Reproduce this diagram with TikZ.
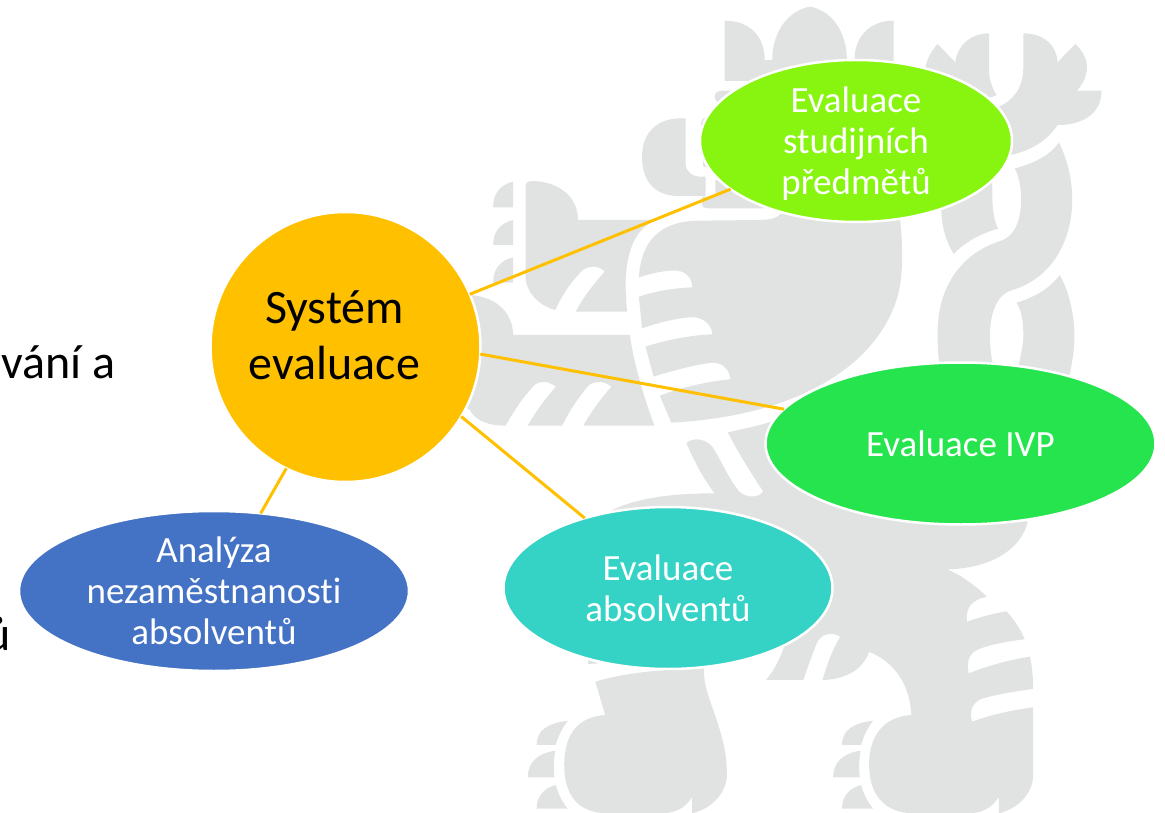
\documentclass[tikz,border=0pt]{standalone}
\usepackage{fontspec}
\setmainfont{Carlito}[Ligatures=NoCommon]
\usetikzlibrary{shapes.geometric}
\definecolor{lionc}{HTML}{E1E3E3}
\definecolor{linkc}{HTML}{FFC000}
\definecolor{limec}{HTML}{88F510}
\definecolor{greenc}{HTML}{25E44E}
\definecolor{tealc}{HTML}{35D3C5}
\definecolor{bluec}{HTML}{4472C4}
\tikzset{
  lion/.style={fill=lionc,draw=none},
  bubble/.style={ellipse,draw=white,line width=2.5pt,outer sep=0pt,inner sep=0pt,text=white,align=center,font=\fontsize{37}{41}\selectfont},
  hub/.style={circle,draw=white,line width=2.5pt,fill=linkc,outer sep=0pt,inner sep=0pt,minimum size=270pt},
  big/.style={text=black,inner sep=0pt,align=center,font=\fontsize{48}{56}\selectfont},
  link/.style={draw=linkc,line width=3pt}
}
\begin{document}
\begin{tikzpicture}[x=1pt,y=-1pt]
\useasboundingbox (0,0) rectangle (1165,813);
\fill[white] (0,0) rectangle (1165,813);
\begin{scope}
\clip (0,0) rectangle (1165,813);
% lion watermark, upper half
\begin{scope}[shift={(470,0)},x=0.44444pt,y=-0.33333pt]
% crown
\fill[lion] (573,62) .. controls (630,62) and (663,110) .. (663,180) -- (680,180) .. controls (680,90) and (720,30) .. (765,20) .. controls (810,30) and (848,90) .. (848,180) -- (865,180) .. controls (865,110) and (900,62) .. (953,62) -- (953,300) -- (640,300) -- (640,243) -- (573,243) -- cycle;
% head pieces
\fill[lion] (550,292) .. controls (550,280) and (556,272) .. (568,272) -- (700,272) -- (700,340) -- (565,330) -- cycle;
\fill[lion] (520,372) .. controls (520,360) and (524,354) .. (532,352) -- (600,352) -- (600,520) -- (525,500) -- cycle;
\fill[lion] (485,355) .. controls (420,350) and (387,400) .. (387,470) .. controls (387,550) and (420,588) .. (470,588) -- (530,588) -- (530,530) -- (520,530) .. controls (500,530) and (485,515) .. (485,490) -- cycle;
\fill[lion] (522,590) -- (522,612) .. controls (522,622) and (528,625) .. (538,625) -- (680,625) -- (680,540) -- (552,540) -- (552,590) -- cycle;
% claws of the upper paw
\fill[lion] (97,545) .. controls (65,555) and (52,585) .. (52,622) -- (97,622) -- cycle;
\fill[lion] (97,660) .. controls (65,670) and (52,700) .. (52,735) -- (97,735) -- cycle;
\fill[lion] (97,772) .. controls (65,782) and (52,812) .. (52,848) -- (97,848) -- cycle;
% upper paw
\fill[lion] (125,560) .. controls (125,548) and (130,543) .. (140,543) .. controls (205,545) and (243,595) .. (243,660) -- (420,660) .. controls (375,680) and (350,750) .. (350,860) -- (353,935) -- (238,935) .. controls (255,890) and (280,850) .. (303,815) .. controls (290,795) and (265,795) .. (250,815) .. controls (225,850) and (205,890) .. (192,930) .. controls (150,915) and (125,870) .. (125,830) -- cycle;
% lower paw
\fill[lion] (-40,885) -- (0,885) .. controls (60,890) and (97,940) .. (97,1005) -- (360,1005) .. controls (365,1070) and (390,1190) .. (415,1277) -- (255,1277) .. controls (270,1240) and (295,1195) .. (318,1160) .. controls (305,1145) and (285,1140) .. (268,1155) .. controls (245,1190) and (225,1230) .. (207,1277) -- (130,1277) .. controls (145,1240) and (170,1195) .. (193,1160) .. controls (180,1145) and (160,1140) .. (145,1155) .. controls (120,1190) and (100,1230) .. (80,1277) .. controls (40,1277) and (10,1260) .. (0,1230) -- (-40,1200) -- cycle;
% chest
\fill[lion] (380,832) .. controls (385,720) and (430,665) .. (510,662) -- (650,660) .. controls (680,660) and (695,650) .. (700,640) -- (968,660) .. controls (975,760) and (972,800) .. (970,830) .. controls (960,1000) and (830,1240) .. (453,1268) -- (427,1187) .. controls (470,1165) and (530,1145) .. (585,1138) .. controls (585,1110) and (570,1090) .. (548,1088) .. controls (520,1090) and (460,1110) .. (413,1130) -- (395,1040) .. controls (440,1020) and (500,1005) .. (545,1003) .. controls (545,980) and (530,955) .. (505,952) .. controls (480,950) and (430,965) .. (387,985) -- (380,890) .. controls (415,875) and (450,865) .. (500,862) .. controls (500,840) and (490,815) .. (465,812) .. controls (450,810) and (420,815) .. (380,832) -- cycle;
% tail
\fill[lion] (1025,200) .. controls (1030,170) and (1040,150) .. (1052,132) -- (1092,187) .. controls (1095,140) and (1125,100) .. (1168,100) -- (1168,210) .. controls (1168,240) and (1175,265) .. (1185,285) -- (1100,330) -- cycle;
\fill[lion] (1190,320) .. controls (1225,300) and (1245,260) .. (1245,200) -- (1245,100) .. controls (1290,100) and (1320,135) .. (1322,187) -- (1362,132) .. controls (1380,155) and (1390,180) .. (1388,210) .. controls (1385,235) and (1378,255) .. (1365,272) -- (1421,272) .. controls (1421,335) and (1385,375) .. (1322,375) .. controls (1300,420) and (1265,450) .. (1218,465) -- (1150,420) -- cycle;
\fill[lion] (1325,428) .. controls (1345,480) and (1355,540) .. (1355,600) .. controls (1355,720) and (1310,835) .. (1220,870) .. controls (1190,880) and (1170,930) .. (1170,1005) .. controls (1170,1040) and (1172,1065) .. (1180,1130) -- (1058,1130) .. controls (1052,1050) and (1052,1020) .. (1052,1000) .. controls (1052,860) and (1105,760) .. (1195,722) .. controls (1225,710) and (1240,660) .. (1240,600) .. controls (1240,560) and (1235,530) .. (1226,505) .. controls (1270,490) and (1305,465) .. (1325,428) -- cycle;
\fill[lion] (1175,540) .. controls (1175,610) and (1175,650) .. (1188,686) .. controls (1150,700) and (1115,725) .. (1088,762) .. controls (1070,720) and (1060,680) .. (1060,610) -- cycle;
\fill[lion] (1327,825) .. controls (1350,880) and (1360,950) .. (1360,1010) .. controls (1360,1050) and (1355,1085) .. (1347,1140) -- (1225,1140) .. controls (1242,1060) and (1245,1030) .. (1245,1005) .. controls (1245,960) and (1240,930) .. (1230,908) .. controls (1270,892) and (1305,865) .. (1327,825) -- cycle;
% lower half
\begin{scope}[shift={(0,1200)}]
% torso and hind leg
\fill[lion] (300,345) .. controls (360,295) and (450,280) .. (550,280) .. controls (525,235) and (505,185) .. (487,130) .. controls (495,115) and (525,110) .. (545,140) .. controls (565,180) and (580,230) .. (600,265) .. controls (610,290) and (645,300) .. (660,275) .. controls (630,215) and (600,150) .. (580,97) .. controls (620,85) and (660,75) .. (700,55) -- (900,290) -- (1255,365) .. controls (1240,450) and (1170,505) .. (1075,508) .. controls (1110,530) and (1140,560) .. (1163,590) .. controls (1130,600) and (1115,620) .. (1118,665) .. controls (1150,650) and (1180,640) .. (1207,634) .. controls (1225,660) and (1240,690) .. (1248,718) .. controls (1200,725) and (1160,738) .. (1140,750) .. controls (1120,765) and (1118,790) .. (1122,820) .. controls (1160,800) and (1210,780) .. (1260,770) .. controls (1265,800) and (1267,835) .. (1267,867) .. controls (1220,875) and (1180,885) .. (1150,897) .. controls (1130,910) and (1122,935) .. (1130,965) .. controls (1170,945) and (1220,930) .. (1267,922) -- (1267,1130) .. controls (1265,1180) and (1235,1225) .. (1190,1240) -- (1190,1190) .. controls (1175,1225) and (1150,1240) .. (1120,1240) -- (1000,1240) .. controls (930,1240) and (898,1180) .. (898,1095) .. controls (898,1000) and (935,950) .. (993,945) .. controls (990,860) and (960,790) .. (898,755) .. controls (885,805) and (850,838) .. (793,840) .. controls (803,795) and (815,750) .. (833,710) .. controls (815,695) and (790,700) .. (780,730) .. controls (770,765) and (760,800) .. (750,840) -- (666,840) .. controls (685,810) and (700,770) .. (708,735) -- (600,600) -- cycle;
% fore leg
\fill[lion] (282,845) .. controls (340,822) and (400,810) .. (527,805) -- (527,830) .. controls (530,900) and (580,1000) .. (578,1130) .. controls (575,1180) and (545,1225) .. (500,1240) -- (500,1190) .. controls (485,1225) and (460,1240) .. (430,1240) -- (310,1240) .. controls (240,1240) and (212,1180) .. (212,1095) .. controls (212,1000) and (245,950) .. (304,945) -- cycle;
\fill[lion] (266,780) -- (290,790) -- (266,792) -- cycle;
% toes
\foreach \dx in {0,687}{
\begin{scope}[xshift=\dx*0.44444pt]
\fill[lion] (220,962) .. controls (175,970) and (150,990) .. (150,1035) -- (193,1035) .. controls (198,1010) and (207,985) .. (220,962) -- cycle;
\fill[lion] (192,1052) .. controls (150,1060) and (130,1090) .. (130,1132) -- (190,1132) .. controls (188,1105) and (188,1080) .. (192,1052) -- cycle;
\fill[lion] (193,1155) .. controls (165,1165) and (150,1190) .. (150,1226) -- (220,1226) .. controls (207,1205) and (198,1180) .. (193,1155) -- cycle;
\end{scope}}
\end{scope}
\end{scope}
% cut-off page text
\node[big,anchor=base east] (frag1) at (116,378) {vání a};
\node[big,anchor=base east] (frag2) at (11,650) {ů};
\end{scope}
% nodes
\node[hub] (sys) at (345.5,347) {};
\node[big,anchor=base] (systxt) at (334.5,379.5) {Systém\\evaluace};
\node[bubble,fill=limec,inner ysep=-10pt,minimum width=312pt,minimum height=162pt] (subj) at (856,141) {\rule{0pt}{31pt}Evaluace\\studijních\\předmětů};
\node[bubble,fill=greenc,minimum width=390pt,minimum height=162pt] (ivp) at (960.5,443.5) {Evaluace IVP};
\node[bubble,fill=tealc,minimum width=329pt,minimum height=162pt] (grad) at (668,588) {Evaluace\\absolventů};
\node[bubble,fill=bluec,minimum width=390pt,minimum height=160pt] (unemp) at (214,591) {Analýza\\nezaměstnanosti\\absolventů};
% connectors
\draw[link] (sys.23.8) -- (subj.201.3);
\draw[link] (sys.-3.4) -- (ivp.169.6);
\draw[link] (sys.-31.2) -- (grad.140.5);
\draw[link] (sys.244) -- (unemp.59.2);
\end{tikzpicture}
\end{document}
